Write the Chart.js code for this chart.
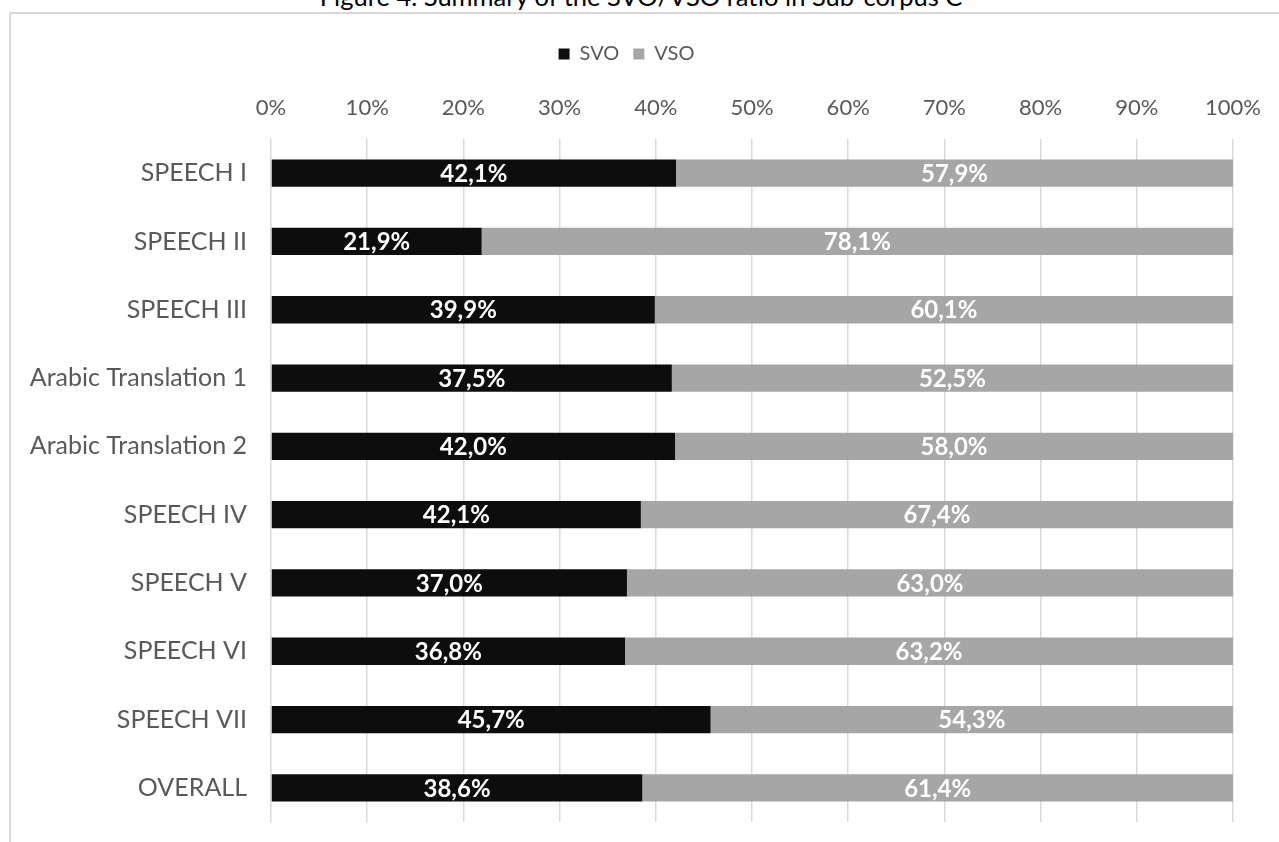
<!DOCTYPE html>
<html>
<head>
<meta charset="utf-8">
<title>SVO/VSO ratio</title>
<script src="https://cdn.jsdelivr.net/npm/chart.js@4"></script>
<style>
  html, body { margin: 0; padding: 0; background: #fff; overflow: hidden; }
  #wrap { position: relative; width: 1279px; height: 842px; }
  #title {
    position: absolute; left: 0; top: -16px; width: 1282px;
    text-align: center; font: 25.5px Lato, sans-serif; line-height: 25px; color: #000;
  }
  #frame {
    position: absolute; left: 9px; top: 12px; width: 1400px; height: 900px;
    border-top: 2px solid #d9d9d9; border-left: 2px solid #d9d9d9;
  }
  canvas { position: absolute; left: 0; top: 0; }
</style>
</head>
<body>
<div id="wrap">
  <div id="frame"></div>
  <div id="title">Figure 4. Summary of the SVO/VSO ratio in Sub-corpus C</div>
  <canvas id="barChart" width="1279" height="842"></canvas>
</div>
<script>
const categories = ['SPEECH I', 'SPEECH II', 'SPEECH III', 'Arabic Translation 1', 'Arabic Translation 2',
  'SPEECH IV', 'SPEECH V', 'SPEECH VI', 'SPEECH VII', 'OVERALL'];
const svoValues = [42.1, 21.9, 39.9, 37.5, 42.0, 42.1, 37.0, 36.8, 45.7, 38.6];
const vsoValues = [57.9, 78.1, 60.1, 52.5, 58.0, 67.4, 63.0, 63.2, 54.3, 61.4];
const tickValues = [0, 10, 20, 30, 40, 50, 60, 70, 80, 90, 100];

// 100% stacked: each row is scaled to its own total, labels keep the raw figures
const totals = svoValues.map((v, i) => v + vsoValues[i]);
const svoShare = svoValues.map((v, i) => v / totals[i] * 100);
const vsoShare = vsoValues.map((v, i) => v / totals[i] * 100);

const textGrey = '#595959';
const family = 'Lato, sans-serif';

// value labels centred in each segment
const segmentLabels = {
  id: 'segmentLabels',
  afterDatasetsDraw(chart) {
    const ctx = chart.ctx;
    ctx.save();
    ctx.font = 'bold 24px ' + family;
    ctx.fillStyle = '#ffffff';
    ctx.textAlign = 'center';
    ctx.textBaseline = 'middle';
    chart.data.datasets.forEach((ds, di) => {
      chart.getDatasetMeta(di).data.forEach((bar, i) => {
        const txt = ds.raw[i].toFixed(1).replace('.', ',') + '%';
        ctx.fillText(txt, (bar.x + bar.base) / 2, bar.y + 1);
      });
    });
    ctx.restore();
  }
};

new Chart(document.getElementById('barChart').getContext('2d'), {
  type: 'bar',
  data: {
    labels: categories,
    datasets: [
      { label: 'SVO', data: svoShare, raw: svoValues, backgroundColor: '#0d0d0d',
        barPercentage: 0.4, categoryPercentage: 1 },
      { label: 'VSO', data: vsoShare, raw: vsoValues, backgroundColor: '#a6a6a6',
        barPercentage: 0.4, categoryPercentage: 1 }
    ]
  },
  options: {
    indexAxis: 'y',
    responsive: false,
    animation: false,
    devicePixelRatio: 1,
    layout: { padding: { top: 30, left: 20, right: 46, bottom: 20 } },
    scales: {
      x: {
        position: 'top',
        stacked: true,
        min: 0, max: 100,
        afterBuildTicks: s => { s.ticks = tickValues.map(v => ({ value: v })); },
        afterFit: s => { s.height = 65; },
        ticks: { color: textGrey, font: { family, size: 22 }, padding: 18, callback: v => v + '%' },
        grid: { color: '#d9d9d9', lineWidth: 1.5, drawTicks: false },
        border: { display: false }
      },
      y: {
        stacked: true,
        afterFit: s => { s.width = 251; s.paddingTop = 0; s.paddingBottom = 0; },
        ticks: { color: textGrey, font: { family, size: 25 }, padding: 24 },
        grid: { display: false, drawTicks: false },
        border: { display: false }
      }
    },
    plugins: {
      legend: {
        position: 'top',
        labels: { color: textGrey, font: { family, size: 20 }, boxWidth: 11, boxHeight: 11, padding: 14 }
      },
      tooltip: { enabled: false }
    }
  },
  plugins: [segmentLabels]
});
</script>
</body>
</html>
